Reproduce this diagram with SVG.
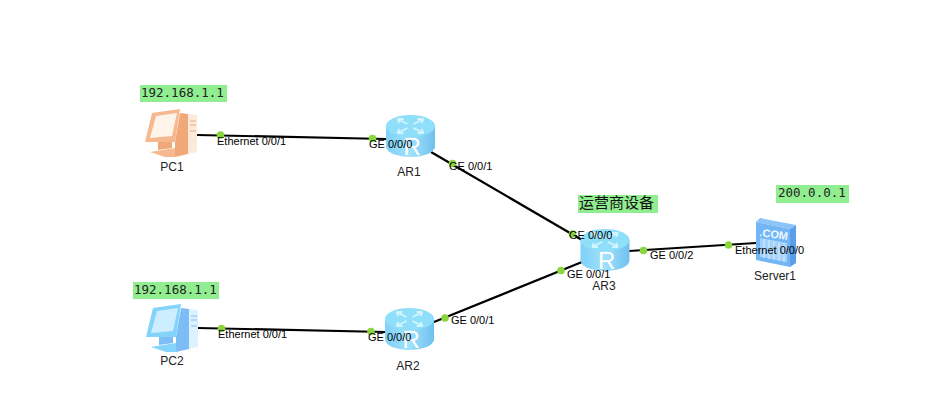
<svg xmlns="http://www.w3.org/2000/svg" xmlns:xlink="http://www.w3.org/1999/xlink" width="934" height="414" viewBox="0 0 934 414">
  <style>
    text { font-family: "Liberation Sans", Arial, sans-serif; font-size: 11px; fill: #000; }
    .name { font-size: 12px; text-anchor: middle; fill: #222; }
    .note { font-family: "DejaVu Sans Mono", monospace; font-size: 12.5px; fill: #222; }
    .cjk { font-family: "Noto Sans CJK SC", sans-serif; font-size: 15px; fill: #111; }
    .tag { fill: #90ee90; }
    .link { stroke: #000; stroke-width: 2.2; fill: none; }
    .dot { fill: #8ad63f; }
    .badge { font-size: 24px; fill: #fff; }
  </style>
  <defs>
    <linearGradient id="drum" x1="0" x2="1" y1="0" y2="0">
      <stop offset="0" stop-color="#7fd0f8"/>
      <stop offset="0.5" stop-color="#9fe2fb"/>
      <stop offset="1" stop-color="#6fc0ee"/>
    </linearGradient>
    <g id="router">
      <path d="M-24.500,-10 V10 C-24.500,17 -12,21 0,21 C12,21 24.500,17 24.500,10 V-10 Z" fill="url(#drum)"/>
      <ellipse cx="0" cy="-10" rx="24.500" ry="11" fill="#8fdffb"/>
      <g stroke="#d4f5ff" stroke-width="1.800" fill="none">
        <path d="M-13,-17 L-3,-12 M-13,-17 L-7,-17 M-13,-17 L-11,-13 M13,-3 L3,-8 M13,-3 L7,-3 M13,-3 L11,-7 M13,-17 L3,-12 M13,-17 L7,-17 M13,-17 L11,-13 M-13,-3 L-3,-8 M-13,-3 L-7,-3 M-13,-3 L-11,-7"/>
      </g>
      <text class="badge" x="-7" y="19">R</text>
    </g>
    <g id="pc-shape">
      <path d="M8,-21 L16,-20 L16,20 L3,23 L3,8 Z" fill="var(--tower)"/>
      <path d="M16,-20 L25,-19 L25,18 L16,20 Z" fill="var(--light)"/>
      <path d="M18,-13 H24 M18,-9 H24 M18,-3 H24" stroke="var(--tower)" stroke-width="1"/>
      <path d="M-20,-21 L8,-25 L3,8 L-27,8 Z" fill="var(--shell)"/>
      <path d="M-16,-18 L5,-21 L0,2 L-22,4 Z" fill="var(--glass)"/>
      <path d="M-14,8 L0,8 L0,14 L-14,16 Z" fill="var(--tower)"/>
      <path d="M-22,18 L3,14 L3,23 L-7,23 Z" fill="var(--shell)"/>
    </g>
  </defs>

  <g id="connectors">
    <line class="link" x1="197" y1="135" x2="386" y2="139"/>
    <line class="link" x1="431" y1="152" x2="582" y2="240"/>
    <line class="link" x1="198" y1="328" x2="385" y2="332"/>
    <line class="link" x1="434" y1="322" x2="582" y2="262"/>
    <line class="link" x1="629" y1="251" x2="756" y2="243"/>
    <circle class="dot" cx="220.500" cy="135" r="3.800"/>
    <circle class="dot" cx="372.500" cy="138.500" r="3.800"/>
    <circle class="dot" cx="452.500" cy="163.500" r="3.800"/>
    <circle class="dot" cx="572.500" cy="234" r="3.800"/>
    <circle class="dot" cx="221.500" cy="328.500" r="3.800"/>
    <circle class="dot" cx="371" cy="331.500" r="3.800"/>
    <circle class="dot" cx="445" cy="318" r="3.800"/>
    <circle class="dot" cx="561" cy="270.500" r="3.800"/>
    <circle class="dot" cx="643.500" cy="250.500" r="3.800"/>
    <circle class="dot" cx="728.500" cy="245" r="3.800"/>
  </g>

  <g id="PC1" style="--tower:#f0a878;--light:#fdeadb;--shell:#f6b88e;--glass:#fff4ea">
    <use xlink:href="#pc-shape" href="#pc-shape" transform="translate(172,134)"/>
    <text class="name" x="172" y="171">PC1</text>
  </g>
  <g id="PC2" style="--tower:#7dbdf6;--light:#dcf2ff;--shell:#84d3fb;--glass:#cdeeff">
    <use xlink:href="#pc-shape" href="#pc-shape" transform="translate(173,329)"/>
    <text class="name" x="172" y="365">PC2</text>
  </g>
  <g id="AR1">
    <use xlink:href="#router" href="#router" transform="translate(410.500,136)"/>
    <text class="name" x="409" y="176">AR1</text>
  </g>
  <g id="AR2">
    <use xlink:href="#router" href="#router" transform="translate(409.500,329)"/>
    <text class="name" x="408" y="370">AR2</text>
  </g>
  <g id="AR3">
    <use xlink:href="#router" href="#router" transform="translate(605,250)"/>
    <text class="name" x="604" y="290">AR3</text>
  </g>
  <g id="Server1">
    <path d="M756,222 L760,218 L796,225 L790,229 Z" fill="#8cc4f8"/>
    <path d="M790,229 L796,225 L796,263 L790,267 Z" fill="#5a9fe8"/>
    <path d="M756,222 L790,229 L790,267 L756,260 Z" fill="#72b6f6"/>
    <path d="M760,238 L787,243 L787,262 L760,257 Z" fill="#a4d2fa"/>
    <path d="M764,239 V258 M769,240 V259 M774,241 V260 M779,242 V261 M784,243 V262" stroke="#d6ecfd" stroke-width="1"/>
    <text x="759" y="236" style="font-size:11px;font-weight:bold;fill:#eef8ff" transform="rotate(8 759 236)">.COM</text>
    <text class="name" x="775" y="280">Server1</text>
  </g>

  <g id="port-labels">
    <text x="217" y="145">Ethernet 0/0/1</text>
    <text x="369" y="148">GE 0/0/0</text>
    <text x="449" y="170">GE 0/0/1</text>
    <text x="569" y="239">GE 0/0/0</text>
    <text x="567" y="278">GE 0/0/1</text>
    <text x="650" y="259">GE 0/0/2</text>
    <text x="735" y="254">Ethernet 0/0/0</text>
    <text x="218" y="338">Ethernet 0/0/1</text>
    <text x="368" y="341">GE 0/0/0</text>
    <text x="451" y="324">GE 0/0/1</text>
  </g>

  <g id="note-pc1">
    <rect class="tag" x="140" y="85" width="87" height="17"/>
    <text class="note" x="141" y="97">192.168.1.1</text>
  </g>
  <g id="note-pc2">
    <rect class="tag" x="133" y="282" width="86" height="17"/>
    <text class="note" x="134" y="294">192.168.1.1</text>
  </g>
  <g id="note-ar3">
    <rect class="tag" x="578" y="195" width="80" height="18"/>
    <text class="cjk" x="579" y="208">运营商设备</text>
  </g>
  <g id="note-server">
    <rect class="tag" x="776" y="185" width="73" height="18"/>
    <text class="note" x="778" y="197">200.0.0.1</text>
  </g>
</svg>
